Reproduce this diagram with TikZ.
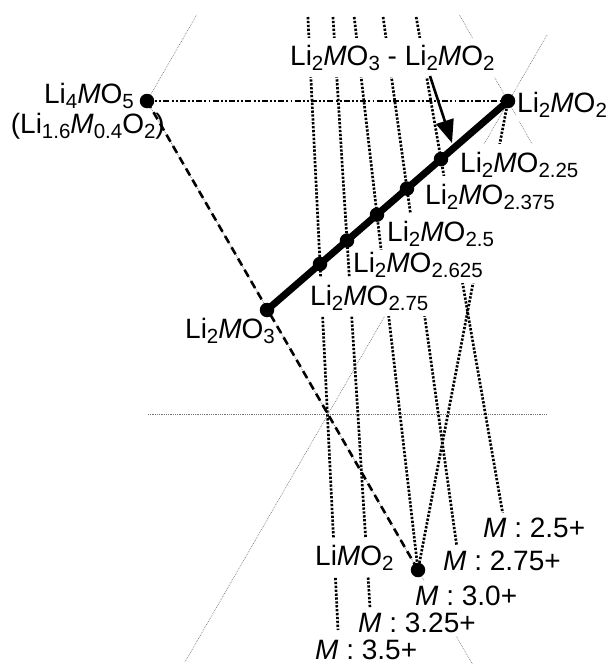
\documentclass[tikz,border=0pt]{standalone}
\usepackage{fontspec}
\setmainfont{Liberation Sans}
\usetikzlibrary{arrows.meta}
\newcommand{\sbs}[1]{\raisebox{-5pt}{\fontsize{20.5}{21}\selectfont #1}}
\begin{document}
\begin{tikzpicture}[x=1pt,y=-1pt,
  gridline/.style={black!55, line width=0.6pt, dash pattern=on 0.8pt off 1pt},
  oxline/.style={black, line width=2.7pt, dash pattern=on 2.3pt off 1.6pt},
  lab/.style={fill=white, inner xsep=1pt, inner ysep=7pt, font=\fontsize{28}{30}\selectfont},
  labb/.style={lab, inner ysep=4pt},
  labs/.style={fill=white, inner xsep=1pt, inner ysep=0pt, text height=28pt, font=\fontsize{28}{30}\selectfont},
  labnf/.style={inner xsep=1pt, inner ysep=1pt, font=\fontsize{28}{30}\selectfont},
  bigdot/.style={circle, fill=black, inner sep=0pt, minimum size=14.5pt},
]
\useasboundingbox (0,0) rectangle (610,664);
% key points
\coordinate (P4) at (147,101);
\coordinate (P2) at (508,101);
\coordinate (P3) at (267,310);
\coordinate (PL) at (418,570);
\coordinate (D1) at (320,264);
\coordinate (D2) at (347,240.6);
\coordinate (D3) at (377,214.6);
\coordinate (D4) at (407,188.6);
\coordinate (D5) at (441,159.1);
% oxidation lines ends
\coordinate (TA) at (307.9,17);  \coordinate (BA) at (338,630);
\coordinate (TB) at (333.0,17);  \coordinate (BB) at (370,608);
\coordinate (TC) at (354.2,17);
\coordinate (TD) at (383.1,17);  \coordinate (BD) at (457,548);
\coordinate (TE) at (416.2,17);  \coordinate (BE) at (503,515);
% thin grid ends
\coordinate (G1t) at (196.6,15);
\coordinate (G2t) at (459.6,15);  \coordinate (G2b) at (541,160);
\coordinate (G3t) at (547,35);    \coordinate (G4b) at (185,662);
\coordinate (H1) at (148,414);    \coordinate (H2) at (547,414);
\coordinate (LE) at (472.3,664);
\coordinate (AS) at (430,76);     \coordinate (AE) at (452,143);

% thin grid lines
\draw[gridline] (P4) -- (G1t);
\draw[gridline] (G2t) -- (G2b);
\draw[gridline] (G3t) -- (G4b);
\draw[gridline] (H1) -- (H2);
\draw[gridline] (P4) -- (LE);

% dotted oxidation-state lines
\draw[oxline] (TA) -- (BA);
\draw[oxline] (TB) -- (BB);
\draw[oxline] (TC) -- (PL);
\draw[oxline] (TD) -- (BD);
\draw[oxline] (TE) -- (BE);
\draw[oxline] (P2) -- (PL);

% labels (white background), lower ones first
\node[lab, anchor=base west] (Lt) at (289,65) {Li\sbs{2}\textit{M}O\sbs{3} - Li\sbs{2}\textit{M}O\sbs{2}};
\node[labb, anchor=base west] (LR) at (516,112) {Li\sbs{2}\textit{M}O\sbs{2}};
\node[labs, text depth=11pt, anchor=base west] (L1) at (309,305) {Li\sbs{2}\textit{M}O\sbs{2.75}};
\node[labs, text height=22pt, text depth=11pt, anchor=base west] (L2) at (352,272) {Li\sbs{2}\textit{M}O\sbs{2.625}};
\node[labs, text depth=8.5pt, anchor=base west] (L3) at (386,241) {Li\sbs{2}\textit{M}O\sbs{2.5}};
\node[labs, text depth=13pt, anchor=base west] (L4) at (424,204) {Li\sbs{2}\textit{M}O\sbs{2.375}};
\node[labs, text depth=10pt, anchor=base west] (L5) at (459,172) {Li\sbs{2}\textit{M}O\sbs{2.25}};
\node[labb, anchor=base west] (L0) at (184,338) {Li\sbs{2}\textit{M}O\sbs{3}};
\node[lab, anchor=base west] (LL) at (314,565) {Li\textit{M}O\sbs{2}};
\node[labb, anchor=base west] (M25) at (482,537) {\textit{M} : 2.5+};
\node[labb, anchor=base west] (M275) at (442,570) {\textit{M} : 2.75+};
\node[labb, anchor=base west] (M30) at (414,605) {\textit{M} : 3.0+};
\node[labb, anchor=base west] (M325) at (357,632) {\textit{M} : 3.25+};
\node[labb, anchor=base west, inner ysep=1pt] (M35) at (314,659) {\textit{M} : 3.5+};

% dashed tie lines
\draw[line width=2.6pt, dash pattern=on 8pt off 5pt] (P4) -- (PL);
\draw[line width=2.1pt, dash pattern=on 6pt off 2.2pt on 1.9pt off 2.2pt on 1.9pt off 2.2pt] (P4) -- (P2);

% thick solid-solution line
\draw[line width=7pt] (P3) -- (P2);
\foreach \p/\n in {P4/n4, P2/n2, P3/n3, PL/nl, D1/n1, D2/n21, D3/n31, D4/n41, D5/n51}
  \node[bigdot] (\n) at (\p) {};

% arrow
\draw[line width=2.6pt, -{Triangle[length=23pt,width=18pt]}] (AS) -- (AE);

% left labels
\node[labnf, anchor=base east] (L45) at (135,103) {Li\sbs{4}\textit{M}O\sbs{5}};
\node[labnf, anchor=base east] (L16) at (166,133) {(Li\sbs{1.6}\textit{M}\sbs{0.4}O\sbs{2})};
\end{tikzpicture}
\end{document}
